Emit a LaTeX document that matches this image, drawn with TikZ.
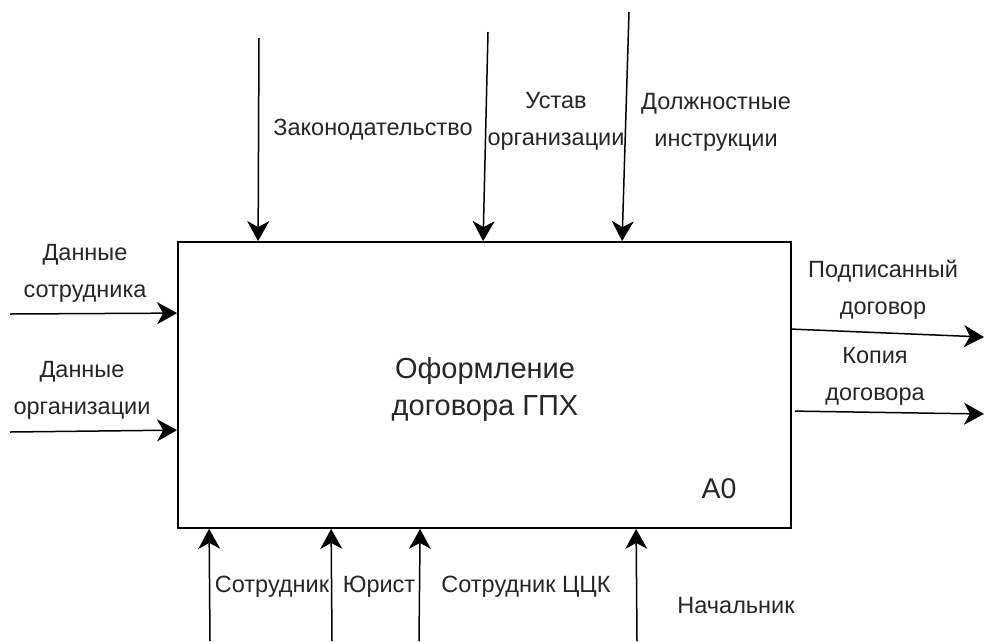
\documentclass[tikz,border=0pt]{standalone}
\usepackage{fontspec}
\setmainfont{Liberation Sans}
\usetikzlibrary{arrows.meta,calc}
\tikzset{
  lbl/.style={font=\fontsize{23.5}{37}\selectfont, align=center, inner sep=0pt, text=black!85},
  arrtip/.tip={Stealth[length=20pt,width=22pt,inset=6pt]},
  arr/.style={line width=1.5pt, arrows={-arrtip}},
  funcbox/.style={draw, line width=1.8pt, minimum width=613pt, minimum height=286pt, inner sep=0pt}
}
\begin{document}
\begin{tikzpicture}[x=1pt,y=-1pt]
\useasboundingbox (0,0) rectangle (984,641);
% main box
\node[funcbox] (box) at (484.5,385) {};
\node[font=\fontsize{29}{37}\selectfont, align=center, inner sep=0pt, text=black!85] (title) at (485,389) {Оформление\\договора ГПХ};
\node[font=\fontsize{28.5}{30}\selectfont, inner sep=0pt, text=black!85] (a0) at (719,489) {A0};

% controls (top)
\coordinate (c1s) at (259,38);
\coordinate (c2s) at (488,32);
\coordinate (c3s) at (629,12);
\coordinate (c1e) at ($(box.north west)+(81,0)$);
\coordinate (c2e) at ($(box.north west)+(306,0)$);
\coordinate (c3e) at ($(box.north west)+(445,0)$);
\draw[arr] (c1s) -- (c1e);
\draw[arr] (c2s) -- (c2e);
\draw[arr] (c3s) -- (c3e);
\node[lbl] (l1) at (373,130) {Законодательство};
\node[lbl] (l2) at (556,121) {Устав\\организации};
\node[lbl] (l3) at (716,122) {Должностные\\инструкции};

% inputs (left)
\coordinate (i1s) at (10,314);
\coordinate (i2s) at (10,432);
\coordinate (i1e) at ($(box.north west)+(0,72)$);
\coordinate (i2e) at ($(box.north west)+(0,189)$);
\draw[arr] (i1s) -- (i1e);
\draw[arr] (i2s) -- (i2e);
\node[lbl] (li1) at (85,273) {Данные\\сотрудника};
\node[lbl] (li2) at (82,390) {Данные\\организации};

% outputs (right)
\coordinate (o1s) at ($(box.north east)+(0,88)$);
\coordinate (o2s) at ($(box.north east)+(3,170)$);
\coordinate (o1e) at (984,337);
\coordinate (o2e) at (984,414);
\draw[arr] (o1s) -- (o1e);
\draw[arr] (o2s) -- (o2e);
\node[lbl] (lo1) at (883,290) {Подписанный\\договор};
\node[lbl] (lo2) at (875,376) {Копия\\договора};

% mechanisms (bottom)
\coordinate (m1s) at (210,641);
\coordinate (m2s) at (332,641);
\coordinate (m3s) at (419,641);
\coordinate (m4s) at (637,641);
\coordinate (m1e) at ($(box.south west)+(32,0)$);
\coordinate (m2e) at ($(box.south west)+(154,0)$);
\coordinate (m3e) at ($(box.south west)+(243,0)$);
\coordinate (m4e) at ($(box.south west)+(459,0)$);
\draw[arr] (m1s) -- (m1e);
\draw[arr] (m2s) -- (m2e);
\draw[arr] (m3s) -- (m3e);
\draw[arr] (m4s) -- (m4e);
\node[lbl] (lm1) at (272,587) {Сотрудник};
\node[lbl] (lm2) at (379,587) {Юрист};
\node[lbl] (lm3) at (526,587) {Сотрудник ЦЦК};
\node[lbl] (lm4) at (736,606) {Начальник};
\end{tikzpicture}
\end{document}
